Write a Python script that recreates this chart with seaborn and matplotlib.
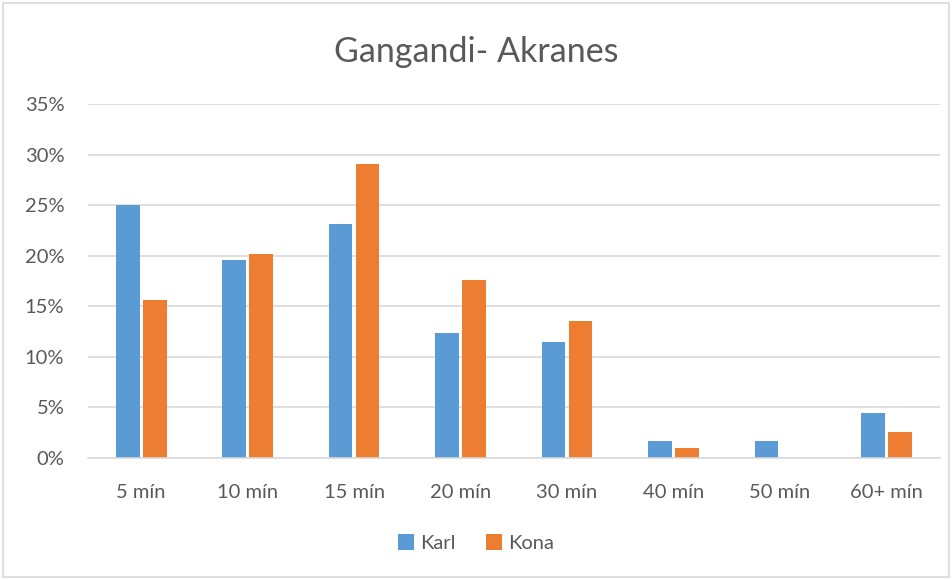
import matplotlib
matplotlib.use("Agg")
import matplotlib.pyplot as plt
import seaborn as sns
import pandas as pd
from matplotlib.patches import Rectangle, Patch
from matplotlib.ticker import PercentFormatter

categories = ["5 mín", "10 mín", "15 mín", "20 mín", "30 mín", "40 mín", "50 mín", "60+ mín"]
karl = [25.0, 19.6, 23.1, 12.4, 11.5, 1.7, 1.7, 4.4]
kona = [15.6, 20.2, 29.1, 17.6, 13.5, 1.0, 0.0, 2.6]
series = ["Karl", "Kona"]
colors = ["#5B9BD5", "#ED7D31"]
title = "Gangandi- Akranes"

df = pd.DataFrame({
    "cat": categories * 2,
    "val": [v / 100 for v in karl] + [v / 100 for v in kona],
    "series": [series[0]] * len(categories) + [series[1]] * len(categories),
})

sns.set_theme(style="white")
plt.rcParams["font.family"] = ["Lato", "DejaVu Sans"]

fig = plt.figure(figsize=(9.52, 5.79), dpi=100)
ax = fig.add_axes([0.0924, 0.209, 0.8946, 0.6114])

sns.barplot(data=df, x="cat", y="val", hue="series", order=categories,
            hue_order=series, palette=colors, width=0.507, gap=0.12,
            ax=ax, legend=False, saturation=1, edgecolor="none")

ax.set_ylim(0, 0.35)
ax.set_yticks([i * 0.05 for i in range(8)])
ax.yaxis.set_major_formatter(PercentFormatter(1.0, decimals=0))
ax.set_xlim(-0.5, len(categories) - 0.5)
ax.grid(axis="y", color="#d9d9d9", linewidth=1.2)
ax.set_axisbelow(True)
for s in ["top", "right", "left"]:
    ax.spines[s].set_visible(False)
ax.spines["bottom"].set_color("#d9d9d9")
ax.spines["bottom"].set_linewidth(1.2)
ax.tick_params(axis="both", length=0, labelsize=14.5, labelcolor="#595959")
ax.tick_params(axis="x", pad=19)
ax.tick_params(axis="y", pad=17)
ax.set_xlabel("")
ax.set_ylabel("")

fig.text(0.5, 0.91, title, ha="center", va="center", fontsize=24.5, color="#595959")

handles = [Patch(facecolor=c, edgecolor="none") for c in colors]
fig.legend(handles, series, loc="center", bbox_to_anchor=(0.5, 0.062), ncol=2,
           frameon=False, fontsize=14.5, labelcolor="#595959",
           handlelength=0.8, handleheight=0.8, handletextpad=0.3, columnspacing=1.5)

fig.add_artist(Rectangle((0.003, 0.003), 0.994, 0.992, transform=fig.transFigure,
                         fill=False, edgecolor="#d9d9d9", linewidth=1.2))

fig.savefig("out.png", dpi=100)
